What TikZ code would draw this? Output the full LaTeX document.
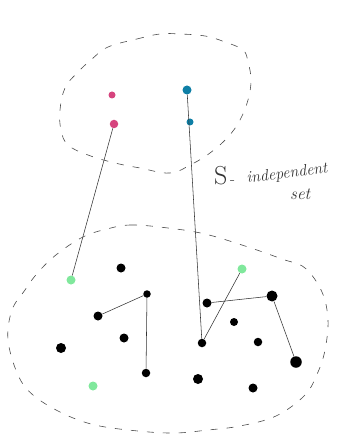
\documentclass[tikz,border=0pt]{standalone}
\usepackage{fontspec}
\begin{document}
\begin{tikzpicture}[x=1pt,y=-1pt,
  dot/.style={circle,inner sep=0pt,minimum size=#1},
  blk/.style={dot=#1,fill=black},
  pnk/.style={dot=#1,fill=pinkc},
  blu/.style={dot=#1,fill=bluec},
  grn/.style={dot=#1,fill=greenc},
  edge/.style={draw=black!80,line width=0.55pt},
  region/.style={draw=black!70,line width=0.6pt,dash pattern=on 7pt off 9pt},
  hand/.style={text=black!80,inner sep=0pt}]
\definecolor{pinkc}{HTML}{D6447E}
\definecolor{bluec}{HTML}{0E7FA6}
\definecolor{greenc}{HTML}{80E89C}
\useasboundingbox (0,0) rectangle (353,435);

% dashed regions
\draw[region] plot[smooth cycle,tension=0.65] coordinates {
  (108,47) (137,39) (160,34) (180,34) (205,36) (225,42) (243,50) (248,62)
  (251,80) (248,100) (240,120) (228,137) (210,153) (192,164) (170,173)
  (140,168) (115,163) (88,155) (68,145) (61,130) (60,110) (65,88) (77,73) (92,59)};
\draw[region] plot[smooth cycle,tension=0.6] coordinates {
  (103,230) (130,225) (168,228) (205,234) (245,246) (282,259) (305,268)
  (322,292) (328,320) (325,350) (318,372) (305,395) (276,416) (240,426)
  (208,430) (175,433) (138,431) (95,425) (62,413) (33,395) (18,375) (8,340)
  (12,310) (25,290) (35,276) (50,260) (68,246) (85,236)};

% independent set
\node[pnk=7pt] (p1) at (112,95) {};
\node[pnk=8.5pt] (p2) at (114,124) {};
\node[blu=9pt] (b1) at (187,90) {};
\node[blu=7pt] (b2) at (190,122) {};

% remaining vertices
\node[grn=9pt] (g1) at (71,280) {};
\node[grn=9pt] (g2) at (242,269) {};
\node[grn=9pt] (g3) at (93,386) {};
\node[blk=9pt] (v1) at (121,268) {};
\node[blk=7.5pt] (v2) at (147,294) {};
\node[blk=9pt] (v3) at (98,316) {};
\node[blk=9pt] (v4) at (124,338) {};
\node[blk=10pt] (v5) at (61,348) {};
\node[blk=8.5pt] (v6) at (146,373) {};
\node[blk=9pt] (v7) at (207,303) {};
\node[blk=11pt] (v8) at (272,296) {};
\node[blk=8pt] (v9) at (234,322) {};
\node[blk=8.5pt] (v10) at (202,343) {};
\node[blk=8.5pt] (v11) at (258,342) {};
\node[blk=11.5pt] (v12) at (296,362) {};
\node[blk=10pt] (v13) at (198,379) {};
\node[blk=9pt] (v14) at (253,388) {};

% edges
\draw[edge] (p2) -- (g1);
\draw[edge] (b1) -- (v10);
\draw[edge] (v2) -- (v3);
\draw[edge] (v2) -- (v6);
\draw[edge] (v10) -- (g2);
\draw[edge] (v7) -- (v8);
\draw[edge] (v8) -- (v12);

% label
\node[hand,anchor=base west] (lbS) at (214,185)
  {\fontsize{26}{28}\selectfont S\fontsize{16}{18}\selectfont\,-};
\node[hand,anchor=base west,rotate=7,font=\itshape\fontsize{16}{20}\selectfont] (lbI) at (247,183) {independent};
\node[hand,anchor=base west,font=\itshape\fontsize{17}{20}\selectfont] (lbT) at (290,200) {set};
\end{tikzpicture}
\end{document}
